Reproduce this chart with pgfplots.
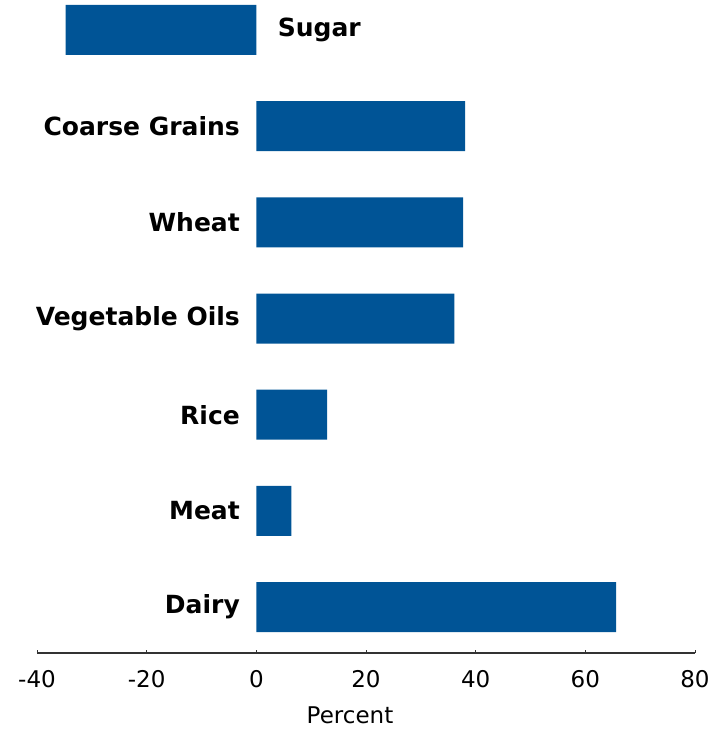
\documentclass[border=0pt]{standalone}
\usepackage{pgfplots}
\pgfplotsset{compat=1.18}
\usepackage{fontspec}
\setmainfont{DejaVu Sans}
\definecolor{barblue}{RGB}{0,84,150}

\begin{document}
\begin{tikzpicture}
\begin{axis}[
name=ax,
scale only axis,
width=658pt, height=648pt,
xmin=-40, xmax=80,
ymin=-0.478, ymax=6.26,
axis x line*=bottom,
axis y line=none,
x axis line style={line width=1.6pt, color=black!80},
xtick={-40,-20,0,20,40,60,80},
major tick length=3pt,
tick style={black!80, line width=0.8pt},
/pgf/number format/assume math mode=true,
xticklabel style={font=\fontsize{23}{26}\selectfont, yshift=-14pt},
xlabel={Percent},
xlabel style={font=\fontsize{23}{26}\selectfont, yshift=-12pt, xshift=-16pt},
xbar, bar width=50pt,
clip=false,
]
\addplot[fill=barblue, draw=none] coordinates {
(65.6,0) (6.4,1) (12.9,2) (36.1,3) (37.7,4) (38.1,5) (-34.8,6)
};
\begin{scope}[every node/.style={font=\bfseries\fontsize{25}{28}\selectfont}]
\node[anchor=east, xshift=-13pt] at (axis cs:0,0) {Dairy};
\node[anchor=east, xshift=-13pt] at (axis cs:0,1) {Meat};
\node[anchor=east, xshift=-13pt] at (axis cs:0,2) {Rice};
\node[anchor=east, xshift=-13pt] at (axis cs:0,3) {Vegetable Oils};
\node[anchor=east, xshift=-13pt] at (axis cs:0,4) {Wheat};
\node[anchor=east, xshift=-13pt] at (axis cs:0,5) {Coarse Grains};
\node[anchor=west, xshift=18pt] at (axis cs:0,6) {Sugar};
\end{scope}
\end{axis}
\pgfresetboundingbox
\path ([shift={(-37pt,-76pt)}]ax.south west) rectangle ([shift={(32pt,5pt)}]ax.north east);
\end{tikzpicture}
\end{document}
